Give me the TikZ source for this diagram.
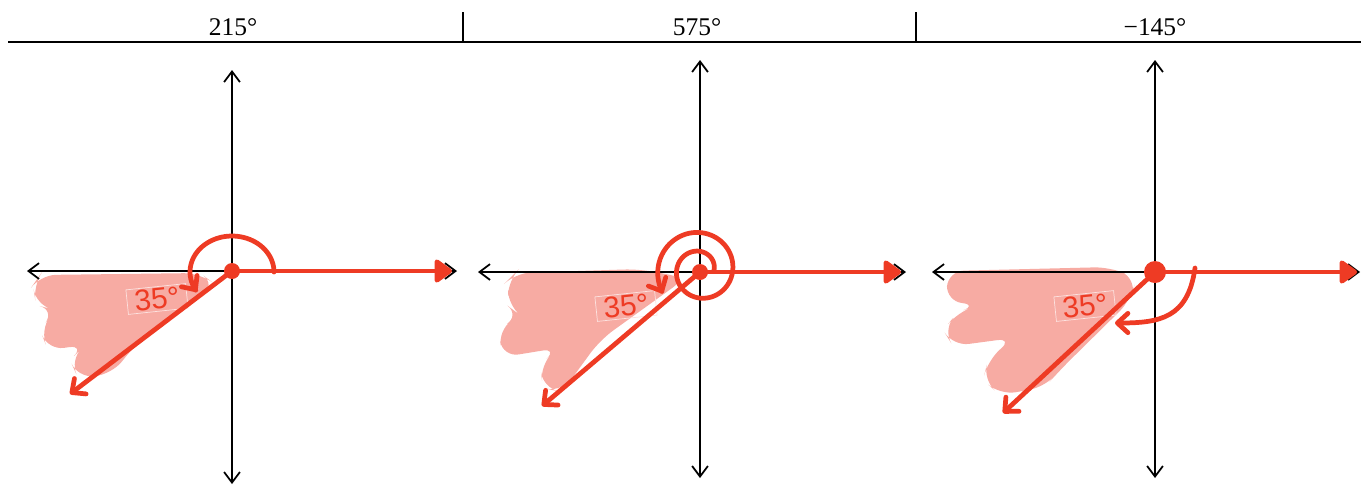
\documentclass[tikz,border=0pt]{standalone}
\usepackage{fontspec}
\setmainfont{Liberation Serif}
\newfontfamily\handfont{Liberation Sans}
\usetikzlibrary{arrows.meta}
\definecolor{inkred}{HTML}{EE3B24}
\definecolor{shade}{HTML}{F7ABA3}

\begin{document}
\begin{tikzpicture}[x=0.02cm, y=-0.02cm,
  axis/.style={black, line width=1pt, {Straight Barb[length=6pt,width=9pt]}-{Straight Barb[length=6pt,width=9pt]}},
  ink/.style={inkred, line width=2.7pt, line cap=round, line join=round},
  ray/.style={ink, -{Straight Barb[length=6pt,width=11pt,round]}},
  zero/.style={ink, -{Triangle[length=11pt,width=15pt,round]}},
  cloud/.style={fill=shade, draw=none, rounded corners=9pt},
  tag/.style={draw=shade!35!white, line width=0.4pt, text=inkred, font=\handfont\fontsize{17}{17}\selectfont, inner sep=1pt, minimum width=1.2cm, minimum height=0.48cm, rotate=6},
  head/.style={font=\fontsize{14.5}{16}\selectfont}]
  \useasboundingbox (0,0) rectangle (1361,485);
  \draw[line width=1.1pt] (8,42) -- (1361,42);
  \draw[line width=0.8pt] (463,12) -- (463,42);
  \draw[line width=0.8pt] (916,12) -- (916,42);
  \node[head] (hA) at (233,27) {215°};
  \node[head] (hB) at (697,27) {575°};
  \node[head] (hC) at (1155,27) {−145°};
  \coordinate (oA) at (232,271);
  \coordinate (oB) at (700,272);
  \coordinate (oC) at (1155,272);
  \fill[cloud] (40,275) -- (200,273) -- (216,285) -- (135,345) -- (112,374) -- (78,378) -- (70,360) -- (85,345) -- (48,350) -- (40,330) -- (55,310) -- (36,305) -- (33,285) -- cycle;
  \fill[cloud] (515,273) -- (640,269) -- (686,278) -- (600,340) -- (562,392) -- (543,388) -- (540,365) -- (558,348) -- (503,357) -- (498,330) -- (520,315) -- (508,306) -- (508,280) -- cycle;
  \fill[cloud] (948,271) -- (1110,267) -- (1136,278) -- (1131,300) -- (1060,370) -- (1045,387) -- (1000,395) -- (983,380) -- (988,360) -- (1013,338) -- (953,346) -- (943,330) -- (958,312) -- (978,305) -- (946,301) -- cycle;
  \draw[axis] (232,70) -- (232,484);
  \draw[axis] (27,271) -- (457,271);
  \draw[axis] (700,60) -- (700,478);
  \draw[axis] (478,272) -- (906,272);
  \draw[axis] (1155,60) -- (1155,478);
  \draw[axis] (932,272) -- (1360,272);
  \node[tag] (tA) at (157,299) {35°};
  \node[tag] (tB) at (626,306) {35°};
  \node[tag] (tC) at (1085,306) {35°};
  \coordinate (eA) at (70,394);
  \coordinate (eB) at (542,406);
  \coordinate (eC) at (1003,413);
  \coordinate (xA) at (452,271);
  \coordinate (xB) at (901,272);
  \coordinate (xC) at (1357,272);
  \draw[ray] (oA) -- (eA);
  \draw[ray] (oB) -- (eB);
  \draw[ray] (oC) -- (eC);
  \draw[zero] (oA) -- (xA);
  \draw[zero] (oB) -- (xB);
  \draw[zero] (oC) -- (xC);
  \draw[ray] plot[domain=0:213, samples=50, smooth] ({232+42*cos(\x)}, {272-36*sin(\x)});
  \draw[ray] plot[domain=0:572, samples=120, smooth] ({700+(14+\x/575*30)*cos(\x)}, {270-(14+\x/575*30)*sin(\x)});
  \draw[ray] (1195,268) .. controls (1188,318) and (1160,323) .. (1115,323);
  \fill[inkred] (oA) circle (8);
  \fill[inkred] (oB) circle (8);
  \fill[inkred] (oC) circle (11);
\end{tikzpicture}
\end{document}
